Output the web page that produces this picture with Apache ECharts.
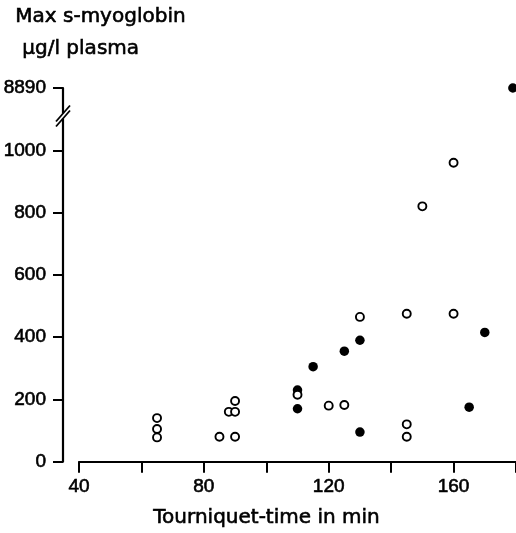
<!DOCTYPE html>
<html><head><meta charset="utf-8">
<script src="https://cdn.jsdelivr.net/npm/echarts@6/dist/echarts.min.js"></script>
<style>html,body{margin:0;padding:0;background:#fff}#c{width:516px;height:533px}</style>
</head><body><div id="c"></div>
<script>
// ---- data ----
const titleLines = ['Max s-myoglobin', 'μg/l plasma'];
const xAxisName = 'Tourniquet-time in min';
const openTime  = [65, 65, 65, 85, 88, 90, 90, 90, 110, 120, 125, 130, 145, 145, 145, 150, 160, 160];
const openValue = [140, 105, 78, 80, 160, 160, 195, 80, 215, 180, 182, 465, 120, 80, 475, 820, 960, 475];
const filledTime  = [110, 110, 115, 125, 130, 130, 165, 170, 179];
const filledValue = [170, 230, 305, 355, 390, 95, 175, 415, 8890];
const yTickValues = [0, 200, 400, 600, 800, 1000];
const breakValue = 8890;     // value shown above the axis break
const xTickLabels = [40, 80, 120, 160];

// ---- axis setup ----
const Y_BREAK_LOW = 1100;    // axis is broken above this value
const Y_SLOT = 1200;         // axis position used for the value beyond the break
const X_MIN = 40, X_MAX = 180, X_STEP = 40;
const GRID_LEFT = 79, Y_OFFSET = 16;

function toAxis(v) { return v > Y_BREAK_LOW ? Y_SLOT + (v - breakValue) / 100 : v; }

const heavy = { textBorderColor: '#000', textBorderWidth: 0.6 };
const numFont = Object.assign({ fontFamily: 'Liberation Sans', fontSize: 19, color: '#000' }, heavy);
const txtFont = Object.assign({ fontFamily: 'DejaVu Sans', fontSize: 20, color: '#000' }, heavy);

const chart = echarts.init(document.getElementById('c'), null, { renderer: 'canvas' });
chart.setOption({
  animation: false,
  backgroundColor: '#fff',
  grid: { left: GRID_LEFT, right: 0, top: 88, bottom: 67, containLabel: false },
  xAxis: {
    type: 'value', min: X_MIN, max: X_MAX, interval: X_STEP,
    axisLine: { show: true, onZero: false, lineStyle: { color: '#000', width: 2.2 } },
    axisTick: { show: true, length: 11, lineStyle: { color: '#000', width: 2 } },
    minorTick: { show: true, splitNumber: 2, length: 11, lineStyle: { color: '#000', width: 2 } },
    splitLine: { show: false },
    axisLabel: Object.assign({ margin: 16, showMaxLabel: false,
      formatter: v => xTickLabels.indexOf(v) >= 0 ? String(v) : '' }, numFont),
    name: xAxisName, nameLocation: 'middle', nameGap: 46,
    nameTextStyle: Object.assign({ padding: [0, 62, 0, 0] }, txtFont)
  },
  yAxis: {
    type: 'value', min: 0, max: Y_SLOT, interval: 200, offset: Y_OFFSET,
    axisLine: { show: true, lineStyle: { color: '#000', width: 2.2 } },
    axisTick: { show: true, length: 10, lineStyle: { color: '#000', width: 2 } },
    splitLine: { show: false },
    axisLabel: Object.assign({ margin: 17,
      formatter: v => v === Y_SLOT ? String(breakValue) : (yTickValues.indexOf(v) >= 0 ? String(v) : '') }, numFont)
  },
  series: [
    {
      type: 'scatter', symbol: 'circle', symbolSize: 9.5, clip: false,
      itemStyle: { color: '#000', opacity: 1 },
      data: filledTime.map((t, i) => [t, toAxis(filledValue[i])])
    },
    {
      type: 'scatter', symbol: 'circle', symbolSize: 8, clip: false,
      itemStyle: { color: '#fff', borderColor: '#000', borderWidth: 1.9, opacity: 1 },
      data: openTime.map((t, i) => [t, toAxis(openValue[i])])
    }
  ]
});

// axis break marks and titles
const ax = GRID_LEFT - Y_OFFSET;
const yc = chart.convertToPixel({ yAxisIndex: 0 }, (Y_BREAK_LOW + 1120) / 2);
chart.setOption({
  graphic: [
    { type: 'rect', z: 100, shape: { x: ax - 4, y: yc - 2.5, width: 8, height: 5 }, style: { fill: '#fff' } },
    { type: 'line', z: 101, shape: { x1: ax - 7, y1: yc - 2.5 + 8, x2: ax + 7, y2: yc - 2.5 - 8 }, style: { stroke: '#000', lineWidth: 1.8 } },
    { type: 'line', z: 101, shape: { x1: ax - 7, y1: yc + 2.5 + 8, x2: ax + 7, y2: yc + 2.5 - 8 }, style: { stroke: '#000', lineWidth: 1.8 } },
    { type: 'text', left: 15, top: 6, style: { text: titleLines[0], font: '20px "DejaVu Sans"', fill: '#000', stroke: '#000', lineWidth: 0.6 } },
    { type: 'text', left: 22, top: 38, style: { text: titleLines[1], font: '20px "DejaVu Sans"', fill: '#000', stroke: '#000', lineWidth: 0.6 } }
  ]
});
</script></body></html>
